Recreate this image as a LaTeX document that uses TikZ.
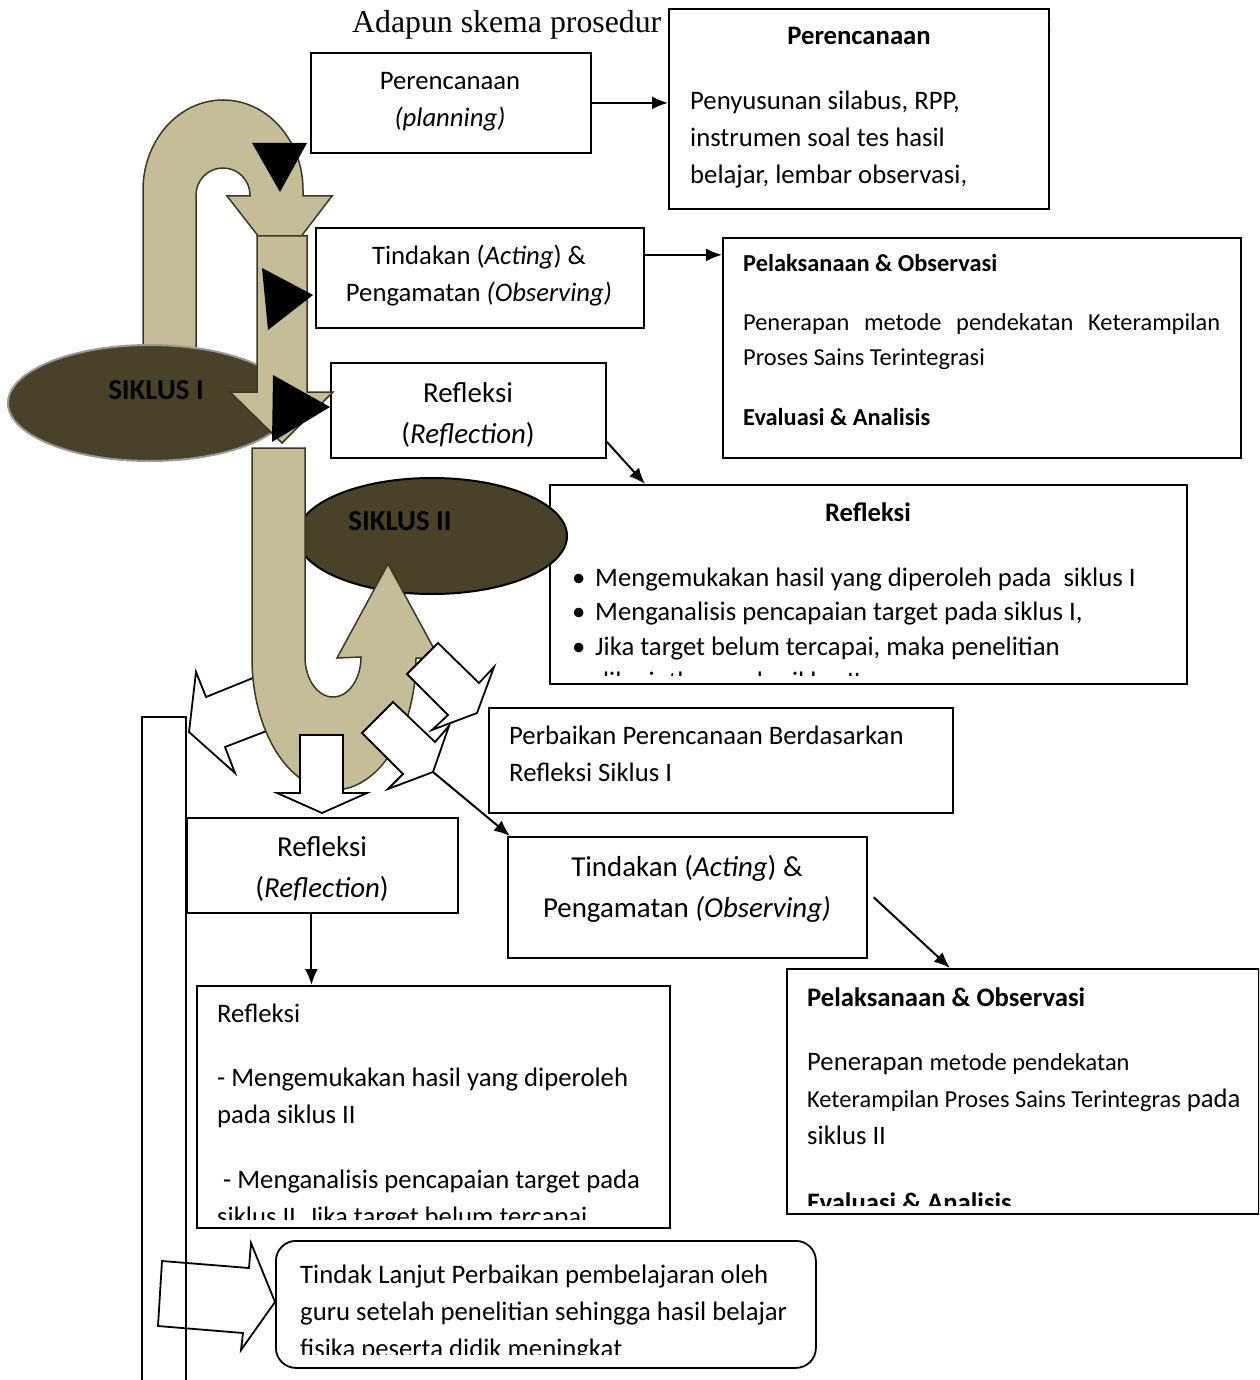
\documentclass[tikz,border=0pt]{standalone}
\usepackage{fontspec}
\setmainfont{Carlito}
\newfontfamily\titlefont{Liberation Serif}
\usepackage{tikz}
\usetikzlibrary{arrows.meta}
\definecolor{tanfill}{HTML}{C4BD97}
\definecolor{tanline}{HTML}{3B3726}
\definecolor{siklus}{HTML}{4A4228}
\newcommand{\fsz}[2]{\fontsize{#1}{#2}\selectfont}

\begin{document}
\begin{tikzpicture}[x=1pt, y=-1pt,
    box/.style={draw, line width=1.8pt, fill=white, inner sep=0pt, anchor=north west},
    txt/.style={inner sep=0pt, anchor=base west},
    ctxt/.style={inner sep=0pt, anchor=base},
    fbody/.style={font=\fsz{26.7}{37}},
    fbig/.style={font=\fsz{28.9}{41}},
    fsmall/.style={font=\fsz{24.4}{35}},
    tanshape/.style={fill=tanfill, draw=tanline, line width=1.5pt},
    whitearrow/.style={fill=white, draw=black, line width=1.8pt, line join=miter},
    siklusblob/.style={fill=siklus, draw=black!40, line width=2pt},
    conn/.style={line width=2pt, -{Latex[length=16pt,width=13pt]}}]
\path[use as bounding box, clip] (0,0) rectangle (1259,1380);

% title line, mostly hidden
\node[txt, font=\titlefont\fsz{31.8}{37}] (title) at (352,33) {Adapun skema prosedur};
\node[txt, font=\titlefont\fsz{31.8}{37}] (colon) at (1044,33) {:};

% boxes
\node[box, minimum width=280pt, minimum height=100pt] (plan) at (310,52) {};
\node[box, minimum width=380pt, minimum height=200pt] (planD) at (668,8) {};
\node[box, minimum width=328pt, minimum height=100pt] (act) at (315,227) {};
\node[box, minimum width=518pt, minimum height=220pt] (actD) at (722,237) {};
\node[box, minimum width=275pt, minimum height=95pt] (refl) at (330,362) {};
\node[box, minimum width=637pt, minimum height=199pt] (reflD) at (549,484) {};
\node[box, minimum width=464pt, minimum height=105pt] (perb) at (488,707) {};
\node[box, minimum width=359pt, minimum height=121pt] (act2) at (507,836) {};
\node[box, minimum width=472pt, minimum height=245pt] (actD2) at (786,968) {};
\node[box, minimum width=271pt, minimum height=95pt] (refl2) at (186,817) {};
\node[box, minimum width=473pt, minimum height=242pt] (reflD2) at (196,985) {};
\node[box, rounded corners=20pt, minimum width=540pt, minimum height=127pt] (fin) at (275,1240) {};

% texts
\node[ctxt, fbody] (planT) at (450,90) {\parbox[t]{270pt}{\centering Perencanaan\\\textit{(planning)}}};
\node[ctxt, fbody] (planDH) at (859,45) {\textbf{Perencanaan}};
\node[txt, fbody] (planDT) at (690,110) {\parbox[t]{350pt}{\raggedright Penyusunan silabus, RPP,\\ instrumen soal tes hasil\\ belajar, lembar observasi,}};
\node[ctxt, fbody] (actT) at (479,264) {\parbox[t]{320pt}{\centering Tindakan (\textit{Acting}) \&\\ Pengamatan \textit{(Observing)}}};
\node[txt, fsmall] (actDT) at (743,271) {\parbox[t]{480pt}{\textbf{Pelaksanaan \& Observasi}\\[24pt]\makebox[477pt][s]{Penerapan metode pendekatan Keterampilan}\\ Proses Sains Terintegrasi\\[25pt]\textbf{Evaluasi \& Analisis}}};
\node[ctxt, fbig] (reflT) at (468,402) {\parbox[t]{270pt}{\centering Refleksi\\ (\textit{Reflection})}};
\node[ctxt, fbody] (reflDH) at (868,521) {\textbf{Refleksi}};
\begin{scope}
  \clip (reflD.north west) rectangle ([yshift=9pt]reflD.south east);
  \node[txt, font=\fsz{26.7}{34.7}] (reflDT) at (572,586) {\parbox[t]{610pt}{\raggedright
    \makebox[23pt][l]{\textbullet}Mengemukakan hasil yang diperoleh pada\ \ siklus I\\
    \makebox[23pt][l]{\textbullet}Menganalisis pencapaian target pada siklus I,\\
    \makebox[23pt][l]{\textbullet}Jika target belum tercapai, maka penelitian\\
    \makebox[23pt][l]{}dilanjutkan pada siklus II}};
\end{scope}
\node[txt, fbody] (perbT) at (509,744) {\parbox[t]{440pt}{\raggedright Perbaikan Perencanaan Berdasarkan\\ Refleksi Siklus I}};
\node[ctxt, fbig] (act2T) at (687,876) {\parbox[t]{350pt}{\centering Tindakan (\textit{Acting}) \&\\ Pengamatan \textit{(Observing)}}};
\begin{scope}
  \clip (actD2.north west) rectangle ([yshift=9pt]actD2.south east);
  \node[txt, fbody] (actD2T) at (807,1006) {\parbox[t]{450pt}{\raggedright \textbf{Pelaksanaan \& Observasi}\\[27pt] Penerapan {\fsz{24.4}{37}metode pendekatan}\\ {\fsz{24.4}{37}Keterampilan Proses Sains Terintegras} pada\\ siklus II\\[30pt] \textbf{Evaluasi \& Analisis}}};
\end{scope}
\node[ctxt, fbig] (refl2T) at (322,856) {\parbox[t]{260pt}{\centering Refleksi\\ (\textit{Reflection})}};
\begin{scope}
  \clip (reflD2.north west) rectangle ([yshift=9pt]reflD2.south east);
  \node[txt, fbody] (reflD2T) at (217,1022) {\parbox[t]{445pt}{\raggedright Refleksi\\[27pt] - Mengemukakan hasil yang diperoleh\\ pada siklus II\\[28pt] \hspace*{6pt}- Menganalisis pencapaian target pada\\ siklus II. Jika target belum tercapai}};
\end{scope}
\begin{scope}
  \clip (fin.north west) rectangle ([yshift=14pt]fin.south east);
  \node[txt, fbody] (finT) at (300,1283) {\parbox[t]{500pt}{\raggedright Tindak Lanjut Perbaikan pembelajaran oleh\\ guru setelah penelitian sehingga hasil belajar\\ fisika peserta didik meningkat}};
\end{scope}

% siklus I
\draw[tanshape] (143,350) -- (143,190) arc[start angle=180, end angle=360, x radius=80, y radius=90]
  -- (303,196) -- (332,196) -- (280,264) -- (227,196) -- (250,196) -- (250,195)
  arc[start angle=0, end angle=-180, radius=27] -- (196,350) -- cycle;
\draw[siklusblob] (150,403) ellipse[x radius=142, y radius=58];
\node[font=\fsz{28.9}{35}\bfseries] (s1) at (156,390) {SIKLUS I};
\draw[tanshape] (257,236) -- (307,236) -- (307,392) -- (333,392) -- (282,443) -- (230,392) -- (257,392) -- cycle;
\fill (252,143) -- (307,143) -- (280,192) -- cycle;
\fill (262,268) -- (268,330) -- (313,295) -- cycle;
\fill (273,375) -- (272,442) -- (330,407) -- cycle;

% siklus II
\draw[siklusblob, draw=black] (432,536) ellipse[x radius=135, y radius=58];
\node[font=\fsz{28.9}{35}\bfseries] (s2) at (400,521) {SIKLUS II};
\draw[whitearrow] (290,663) -- (206,697) -- (196,672) -- (189,732) -- (235,773) -- (225,747) -- (290,722) -- cycle;
\draw[tanshape] (252,448) -- (305,448) -- (305,657)
  arc[start angle=180, end angle=0, x radius=28, y radius=40]
  -- (337,658) -- (388,564) -- (439,658) -- (416,658)
  arc[start angle=0, end angle=180, x radius=82, y radius=132] -- cycle;
\draw[whitearrow] (300,735) -- (343,735) -- (343,793) -- (367,793) -- (322,813) -- (277,793) -- (300,793) -- cycle;
\draw[whitearrow] (407,674) -- (438,643) -- (479,683) -- (494,667) -- (477,713) -- (432,730) -- (448,715) -- cycle;
\draw[whitearrow] (362,733) -- (393,702) -- (435,742) -- (449,726) -- (433,772) -- (388,789) -- (403,774) -- cycle;
\coordinate (w4tip) at (433,772);

% left bar and last arrow
\draw[whitearrow] (162,1261) -- (249,1268) -- (251,1243) -- (275,1302) -- (241,1350) -- (243,1333) -- (158,1326) -- cycle;
\draw[line width=1.8pt] (142,1395) -- (142,717) -- (186,717) -- (186,1395);

% connectors
\draw[conn] (plan.east) -- (plan.east -| planD.west);
\draw[conn] ([yshift=23pt]act.east) -- ([yshift=23pt]act.east -| actD.west);
\draw[conn] ([yshift=17pt]refl.south east) -- ([xshift=96pt]reflD.north west);
\draw[conn] (w4tip) -- ([xshift=3pt]act2.north west);
\draw[conn] ([xshift=6pt]act2.east) -- ([xshift=164pt]actD2.north west);
\draw[conn] ([xshift=-11pt]refl2.south) -- ([xshift=-11pt]refl2.south |- reflD2.north);
\end{tikzpicture}
\end{document}
